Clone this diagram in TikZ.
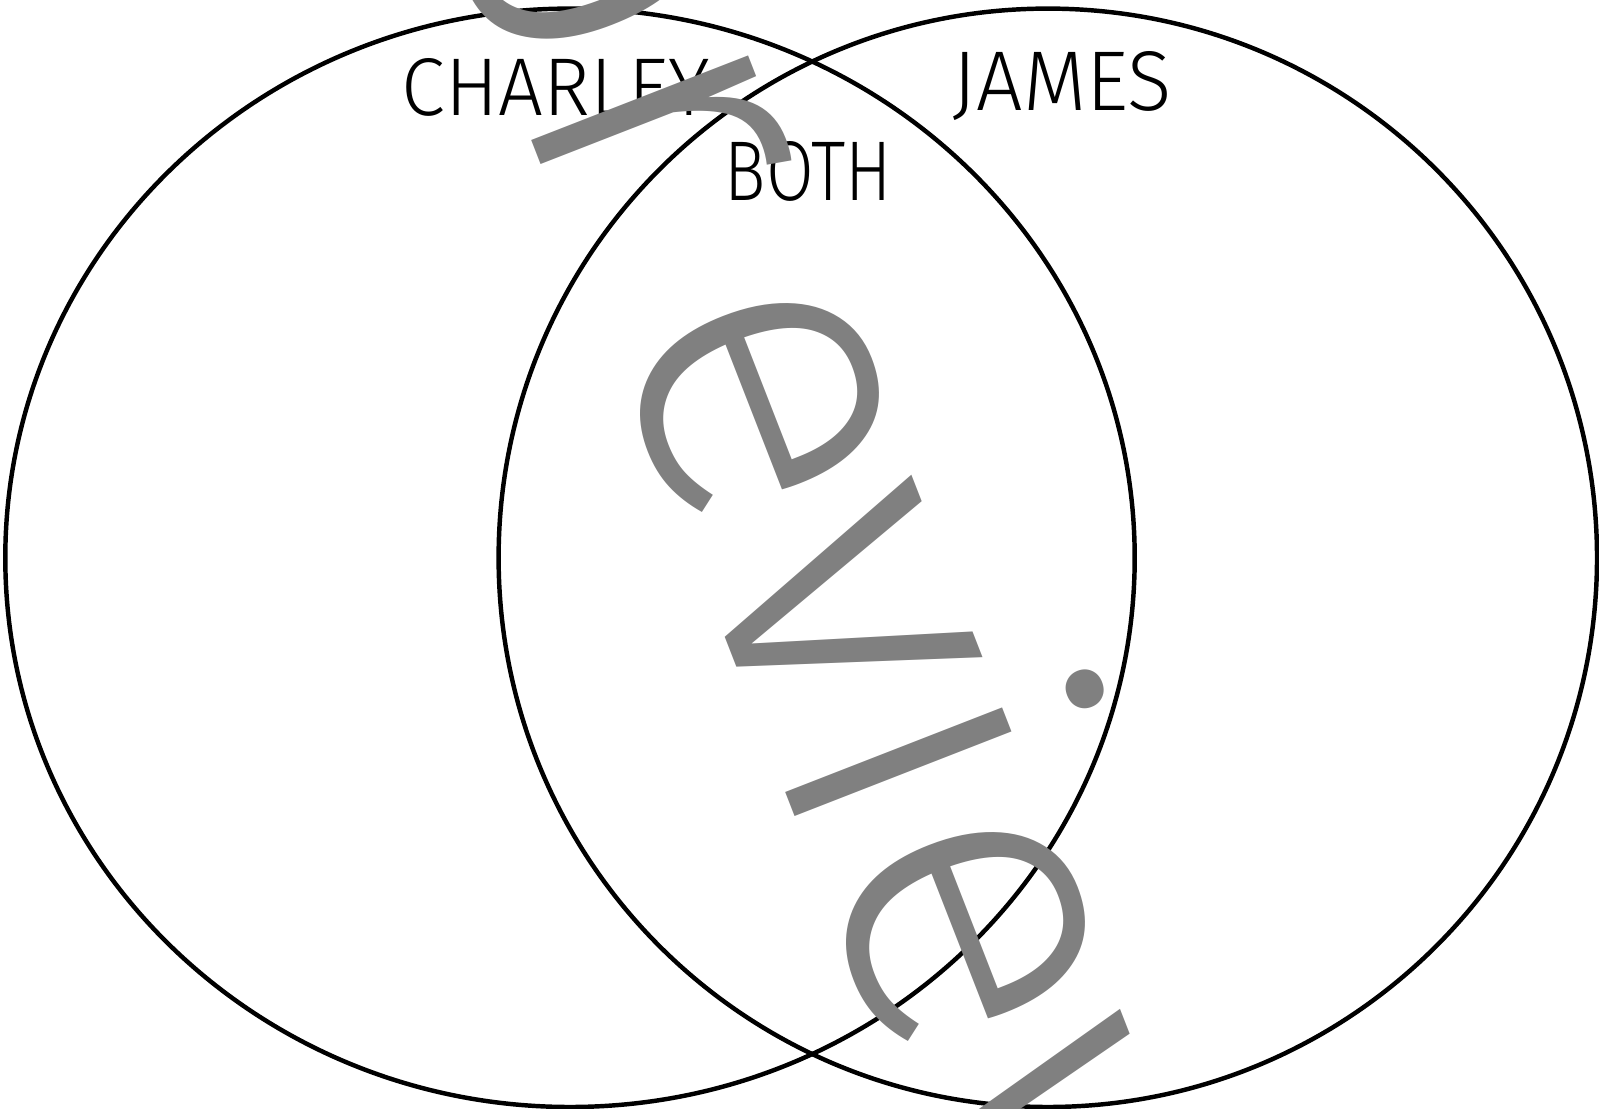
\documentclass[tikz,border=0pt]{standalone}
\usepackage{fontspec}
\setmainfont{Fira Sans Light}
\newfontfamily\wmfont{Fira Sans Light}
\usetikzlibrary{positioning}
\definecolor{wmgray}{HTML}{808080}

\begin{document}
\begin{tikzpicture}[x=0.03cm, y=0.03cm]
  \tikzset{
    ring/.style={draw=black, line width=3.8pt},
    setname/.style={inner sep=0pt, text=black},
    wmtext/.style={inner sep=0pt, text=wmgray, rotate=-68.7, anchor=base,
      font=\wmfont\fontsize{380pt}{380pt}\selectfont}
  }
  \useasboundingbox (0,0) rectangle (1599,1108);

  % Define the two sets
  \draw[ring] (570,550.2) ellipse [x radius=564.7, y radius=549.2];
  \draw[ring] (1047.8,550.2) ellipse [x radius=549.2, y radius=549.2];

  % Names of the sets
  \node[setname] (charley) at (556,1020.5) {\resizebox{9.24cm}{1.71cm}{CHARLEY}};
  \node[setname] (both) at (808.5,936.5) {\resizebox{5.01cm}{1.77cm}{BOTH}};
  \node[setname] (james) at (1062.5,1021.5) {\resizebox{6.57cm}{1.77cm}{JAMES}};

  % Watermark
  \node[wmtext] (preview) at (716.2,493.9) {pr\kern2.6cm eview};
\end{tikzpicture}
\end{document}
